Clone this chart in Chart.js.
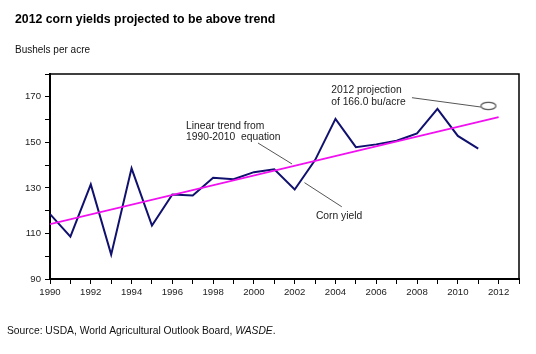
<!DOCTYPE html>
<html>
<head>
<meta charset="utf-8">
<script src="https://cdn.jsdelivr.net/npm/chart.js@4.4.1/dist/chart.umd.min.js"></script>
<style>
  html, body { margin: 0; padding: 0; background: #fff; }
  #wrap { width: 536px; height: 354px; }
</style>
</head>
<body>
<div id="wrap"><canvas id="grafico" width="536" height="354"></canvas></div>
<script>
// data
const anos = [1990, 1991, 1992, 1993, 1994, 1995, 1996, 1997, 1998, 1999, 2000,
  2001, 2002, 2003, 2004, 2005, 2006, 2007, 2008, 2009, 2010, 2011];
const rendimento = [118.5, 108.6, 131.5, 100.7, 138.6, 113.5, 127.1, 126.7, 134.4, 133.8, 136.9,
  138.2, 129.3, 142.2, 160.3, 147.9, 149.1, 150.7, 153.9, 164.7, 152.8, 147.2];
const anosTendencia = [1990, 2012];
const tendencia = [114.1, 161.1];
const anoProjecao = [2011.5];
const projecao = [166.0];
const xMin = 1990, xMax = 2013;
const yMin = 90, yMax = 180;
const yLabels = [90, 110, 130, 150, 170];

const FONTE = "'Liberation Sans', Arial, sans-serif";

// notes, placed in chart units
const notas = [
  { linhas: ['Linear trend from', '1990-2010  equation'], x: 1996.67, y: 157.3, seta: [2000.2, 149.7, 2001.87, 140.5] },
  { linhas: ['Corn yield'], x: 2003.04, y: 117.8, seta: [2002.48, 132.3, 2004.31, 121.7] },
  { linhas: ['2012 projection', 'of 166.0 bu/acre'], x: 2003.79, y: 172.7, seta: [2007.75, 169.6, 2011.13, 165.5] }
];

// ellipse marker for the projection
function elipse() {
  const c = document.createElement('canvas');
  c.width = 18; c.height = 10;
  const g = c.getContext('2d');
  g.strokeStyle = '#555';
  g.lineWidth = 1.2;
  g.beginPath();
  g.ellipse(9, 5, 7.5, 3.7, 0, 0, Math.PI * 2);
  g.fillStyle = '#fff';
  g.fill();
  g.stroke();
  return c;
}

// TEXTOS E MOLDURA
const extras = {
  id: 'extras',
  afterDatasetsDraw(chart) {
    const ctx = chart.ctx;
    const x = chart.scales.x, y = chart.scales.y;
    const a = chart.chartArea;
    ctx.save();

    // frame top and right
    ctx.strokeStyle = '#000';
    ctx.lineWidth = 1.5;
    ctx.beginPath();
    ctx.moveTo(a.left, a.top);
    ctx.lineTo(a.right, a.top);
    ctx.lineTo(a.right, a.bottom);
    ctx.stroke();

    // notes
    ctx.font = '10.3px ' + FONTE;
    ctx.fillStyle = '#222';
    ctx.textBaseline = 'middle';
    ctx.textAlign = 'left';
    notas.forEach(n => {
      n.linhas.forEach((t, i) => {
        ctx.fillText(t, x.getPixelForValue(n.x), y.getPixelForValue(n.y) + i * 11.6);
      });
      ctx.strokeStyle = '#555';
      ctx.lineWidth = 1;
      ctx.beginPath();
      ctx.moveTo(x.getPixelForValue(n.seta[0]), y.getPixelForValue(n.seta[1]));
      ctx.lineTo(x.getPixelForValue(n.seta[2]), y.getPixelForValue(n.seta[3]));
      ctx.stroke();
    });

    // title, unit, source
    ctx.fillStyle = '#000';
    ctx.font = 'bold 12.3px ' + FONTE;
    ctx.fillText('2012 corn yields projected to be above trend', 15, 20);
    ctx.font = '10px ' + FONTE;
    ctx.fillStyle = '#111';
    ctx.fillText('Bushels per acre', 15, 50);
    ctx.font = '10.3px ' + FONTE;
    const src = 'Source: USDA, World Agricultural Outlook Board, ';
    ctx.fillText(src, 7, 331);
    const w = ctx.measureText(src).width;
    ctx.font = 'italic 10.3px ' + FONTE;
    ctx.fillText('WASDE', 7 + w, 331);
    const w2 = ctx.measureText('WASDE').width;
    ctx.font = '10.3px ' + FONTE;
    ctx.fillText('.', 7 + w + w2, 331);
    ctx.restore();
  }
};

const ctx = document.getElementById('grafico').getContext('2d');

new Chart(ctx, {
  type: 'line',
  data: {
    datasets: [
      {
        label: 'Trend',
        data: anosTendencia.map((a, i) => ({ x: a, y: tendencia[i] })),
        borderColor: '#f010f0',
        borderWidth: 1.8,
        pointRadius: 0,
        order: 0
      },
      {
        label: 'Corn yield',
        data: anos.map((a, i) => ({ x: a, y: rendimento[i] })),
        borderColor: '#10106e',
        borderWidth: 2,
        pointRadius: 0,
        order: 1
      },
      {
        label: '2012 projection',
        data: anoProjecao.map((a, i) => ({ x: a, y: projecao[i] })),
        showLine: false,
        pointStyle: elipse(),
        pointRadius: 5,
        order: 0
      }
    ]
  },
  options: {
    responsive: false,
    animation: false,
    layout: { padding: { left: 0, top: 74, right: 17, bottom: 53 } },
    plugins: {
      legend: { display: false },
      tooltip: { enabled: false }
    },
    scales: {
      x: {
        type: 'linear',
        min: xMin,
        max: xMax,
        afterFit: s => { s.height = 22; },
        ticks: {
          stepSize: 1,
          autoSkip: false,
          maxRotation: 0,
          padding: 3,
          color: '#222',
          font: { family: FONTE, size: 9.6 },
          callback: v => (v % 2 === 0 && v <= 2012) ? String(v) : ''
        },
        grid: { drawOnChartArea: false, drawTicks: true, tickLength: 5, color: '#000', tickWidth: 1 },
        border: { display: true, color: '#000', width: 2 }
      },
      y: {
        min: yMin,
        max: yMax,
        afterFit: s => { s.width = 50; },
        ticks: {
          stepSize: 10,
          padding: 4,
          color: '#222',
          font: { family: FONTE, size: 9.6 },
          callback: v => yLabels.includes(v) ? String(v) : ''
        },
        grid: { drawOnChartArea: false, drawTicks: true, tickLength: 5, color: '#000', tickWidth: 1 },
        border: { display: true, color: '#000', width: 2 }
      }
    }
  },
  plugins: [extras]
});
</script>
</body>
</html>
